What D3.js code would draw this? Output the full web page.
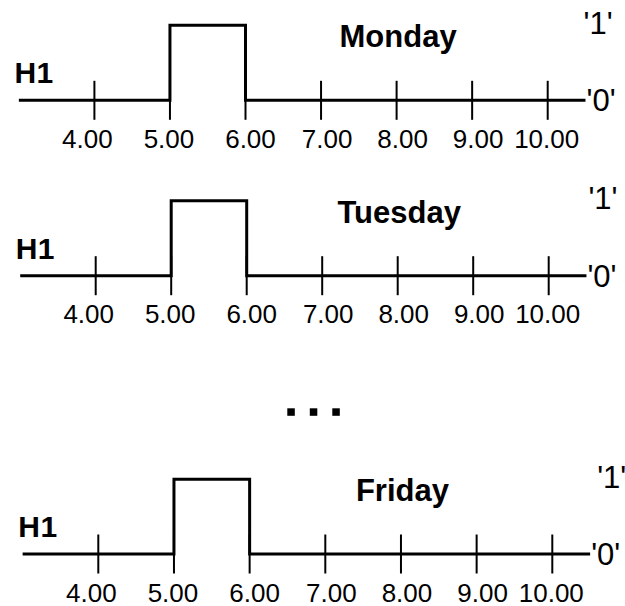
<!DOCTYPE html>
<html>
<head>
<meta charset="utf-8">
<script src="https://cdn.jsdelivr.net/npm/d3@7"></script>
<style>
  html, body { margin: 0; padding: 0; background: #fff; }
  svg { display: block; }
  text { font-family: "Liberation Sans", Arial, Helvetica, sans-serif; fill: #000; }
</style>
</head>
<body>
<svg id="chart" width="625" height="606"></svg>
<script>
// ---- data ----
const days = ["Monday", "Tuesday", "Friday"];
const hourTicks = [4, 5, 6, 7, 8, 9, 10];
const tickLabels = ["4.00", "5.00", "6.00", "7.00", "8.00", "9.00", "10.00"];
const signalName = "H1";
const lowLabel = "'0'";
const highLabel = "'1'";
const stepTimes = [3, 5, 6, 10.5];
const mondayLevels = [0, 1, 0, 0];
const tuesdayLevels = [0, 1, 0, 0];
const fridayLevels = [0, 1, 0, 0];
const levelsByDay = [mondayLevels, tuesdayLevels, fridayLevels];

// ---- layout ----
const panelLayout = [
  { x4: 94.4, x10: 547.7, base: 100.3, top: 25.3, oneDx: -2 },
  { x4: 95.7, x10: 548.7, base: 275.7, top: 200.7, oneDx: 2 },
  { x4: 98.3, x10: 552.3, base: 554.0, top: 479.3, oneDx: 7 }
];
const labelNudge = [-7, -1, 5, 6, 6, 6, -1];

const svg = d3.select("#chart");

days.forEach((day, i) => {
  const L = panelLayout[i];
  const x = d3.scaleLinear().domain([4, 10]).range([L.x4, L.x10]);
  const y = d3.scaleLinear().domain([0, 1]).range([L.base, L.top]);
  const g = svg.append("g");

  // ticks
  g.selectAll("line.tick")
    .data(hourTicks)
    .join("line")
    .attr("class", "tick")
    .attr("x1", d => x(d)).attr("x2", d => x(d))
    .attr("y1", L.base - 19.5).attr("y2", L.base + 19.5)
    .attr("stroke", "#000").attr("stroke-width", 2);

  // signal
  const pts = stepTimes.map((t, k) => [t, levelsByDay[i][k]]);
  const line = d3.line().x(d => x(d[0])).y(d => y(d[1])).curve(d3.curveStepAfter);
  g.append("path")
    .attr("d", line(pts))
    .attr("fill", "none")
    .attr("stroke", "#000")
    .attr("stroke-width", 3)
    .attr("stroke-linejoin", "miter");

  // tick labels
  g.selectAll("text.tl")
    .data(hourTicks)
    .join("text")
    .attr("class", "tl")
    .attr("x", (d, k) => x(d) + labelNudge[k])
    .attr("y", L.base + 47.5)
    .attr("text-anchor", "middle")
    .attr("font-size", 26)
    .text((d, k) => tickLabels[k]);

  // title
  g.append("text")
    .attr("x", x(8) + 1.5)
    .attr("y", L.base - 53)
    .attr("text-anchor", "middle")
    .attr("font-size", 31)
    .attr("font-weight", "bold")
    .text(day);

  // signal name
  g.append("text")
    .attr("x", x(4) - 80)
    .attr("y", L.base - 17)
    .attr("font-size", 30)
    .attr("font-weight", "bold")
    .attr("letter-spacing", 0.5)
    .text(signalName);

  // state labels
  g.append("text")
    .attr("x", x(10.5) + 1)
    .attr("y", L.base + 11)
    .attr("font-size", 31)
    .text(lowLabel);
  g.append("text")
    .attr("x", x(10.5) + L.oneDx)
    .attr("y", L.top + 8.5)
    .attr("font-size", 31)
    .text(highLabel);
});

// ellipsis between panels
svg.selectAll("rect.dot")
  .data([0, 1, 2])
  .join("rect")
  .attr("class", "dot")
  .attr("x", d => 287.3 + d * 22.5)
  .attr("y", 408.3)
  .attr("width", 7.5)
  .attr("height", 7.5)
  .attr("fill", "#000");
</script>
</body>
</html>
